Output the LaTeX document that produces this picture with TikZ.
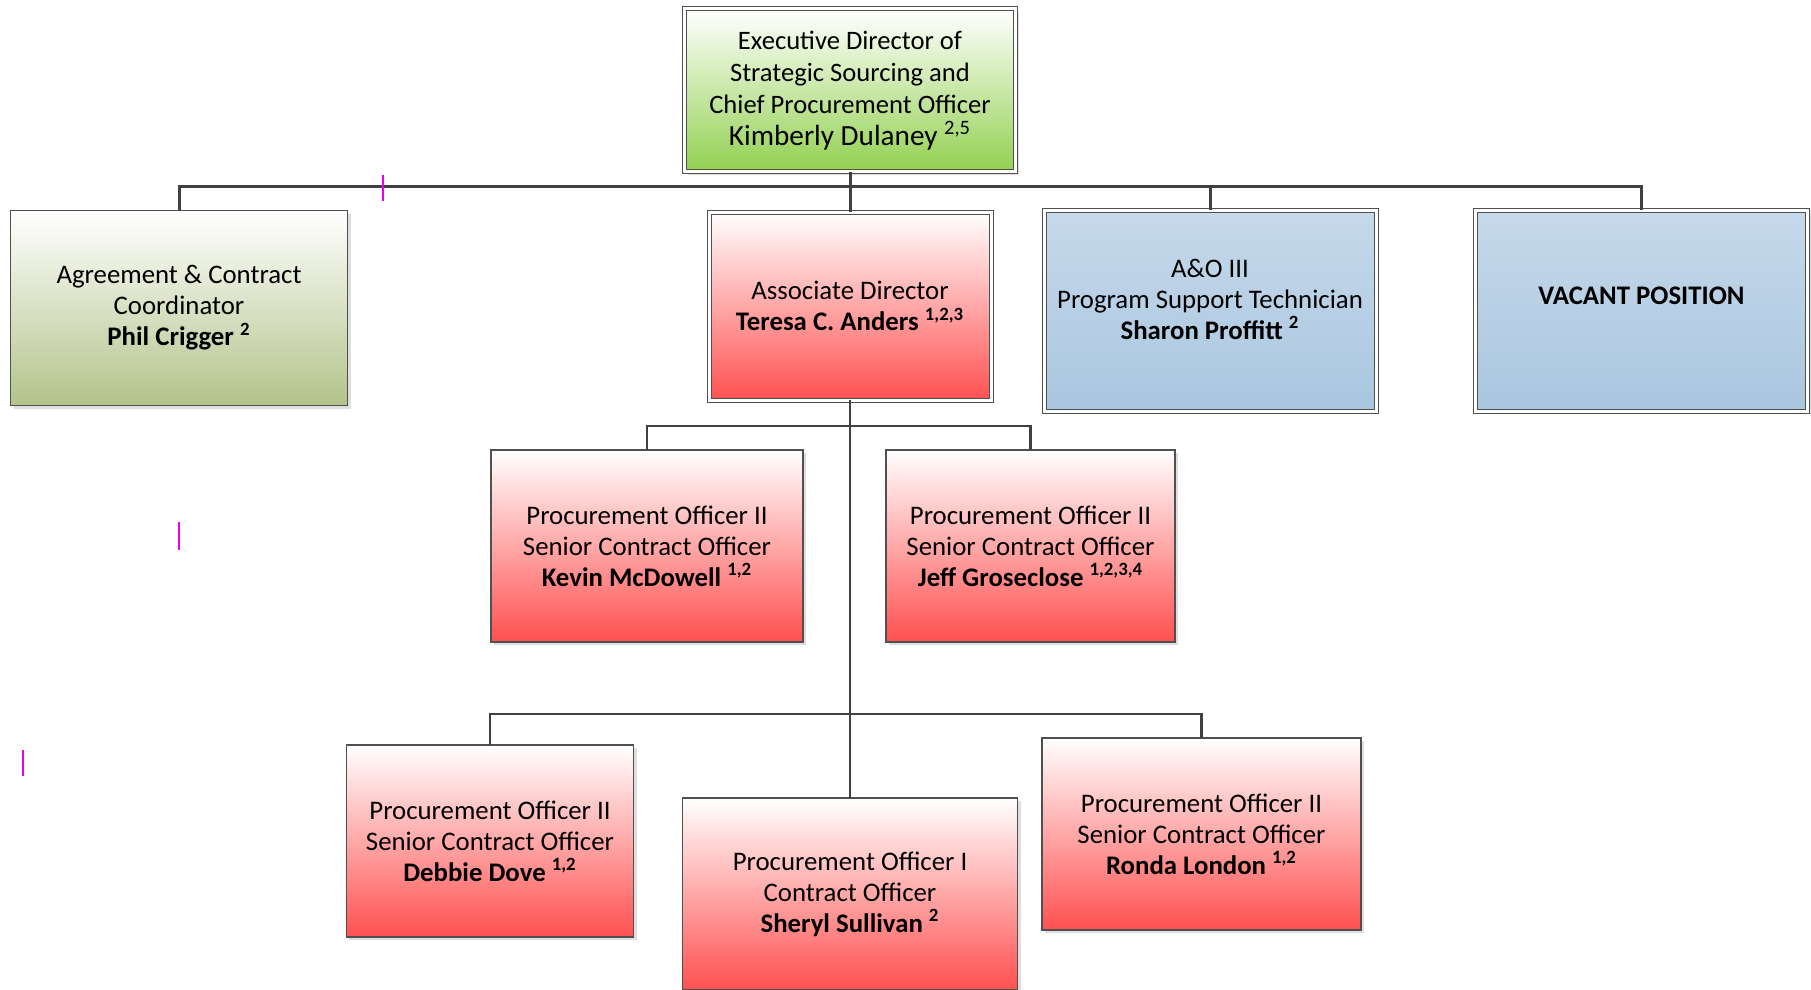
\documentclass[tikz,border=0pt]{standalone}
\usepackage{fontspec}
\setmainfont{Carlito}
\usepackage{tikz}
\usetikzlibrary{shadows}
\definecolor{linegray}{HTML}{404040}
\definecolor{boxedge}{HTML}{505050}
\definecolor{execgreen}{HTML}{92D050}
\definecolor{coordgreen}{HTML}{B3C38A}
\definecolor{postred}{HTML}{FF5050}
\definecolor{bluetop}{HTML}{C6D9EA}
\definecolor{bluebot}{HTML}{A9C6DF}
\definecolor{markpink}{RGB}{235,0,235}
\def\rowA{187}
\def\rowB{426}
\def\rowC{714}
\def\trunk{850}

\begin{document}
\begin{tikzpicture}[x=0.5pt, y=-0.5pt,
	box/.style={draw=boxedge, line width=0.6pt, inner sep=0pt, outer sep=0pt, align=center,
		font=\fontsize{13.4}{15.5}\selectfont,
		drop shadow={shadow xshift=1.6pt, shadow yshift=-1.6pt, fill=black!13, opacity=1}},
	dbl/.style={double=white, double distance=1.5pt, line width=0.5pt},
	execbox/.style={box, dbl, top color=white, bottom color=execgreen, font=\fontsize{13.3}{16}\selectfont},
	coordbox/.style={box, top color=white, bottom color=coordgreen},
	redbox/.style={box, top color=white, bottom color=postred},
	bluebox/.style={box, dbl, top color=bluetop, bottom color=bluebot},
	boxtext/.style={align=center, inner sep=0pt, font=\fontsize{13.4}{15.5}\selectfont},
	mainlink/.style={draw=linegray, line width=1.5pt},
	sublink/.style={draw=linegray, line width=1.1pt},
	]
	\useasboundingbox (0,0) rectangle (1811,990);
	%\draw[step=100, black!20] (0,0) grid (1811,990);

	% top level
	\node[execbox, minimum width=165.5pt, minimum height=81.5pt] (exec) at (\trunk,90.5)
		{Executive Director of\\Strategic Sourcing and\\Chief Procurement Officer\\{\fontsize{14.6}{16}\selectfont Kimberly Dulaney \textsuperscript{2,5}}};

	% second row
	\node[coordbox, minimum width=168.5pt, minimum height=97.5pt] (phil) at (179,308)
		{Agreement \& Contract\\Coordinator\\\textbf{Phil Crigger \textsuperscript{2}}};
	\node[redbox, dbl, minimum width=141pt, minimum height=94pt] (assoc) at (\trunk,306)
		{Associate Director\\\textbf{Teresa C. Anders \textsuperscript{1,2,3}}};
	\node[bluebox, minimum width=166pt, minimum height=100.5pt] (sharon) at (1210,310.5) {};
	\node[boxtext] (sharontxt) at (1210,299)
		{A\&O III\\Program Support Technician\\\textbf{Sharon Proffitt \textsuperscript{2}}};
	\node[bluebox, minimum width=166pt, minimum height=100.5pt] (vacant) at (1641.5,310.5) {};
	\node[boxtext] (vacanttxt) at (1641.5,296) {\textbf{VACANT POSITION}};

	% third row
	\node[redbox, minimum width=156pt, minimum height=96pt] (kevin) at (647,546)
		{Procurement Officer II\\Senior Contract Officer\\\textbf{Kevin McDowell \textsuperscript{1,2}}};
	\node[redbox, minimum width=144.5pt, minimum height=96pt] (jeff) at (1030.5,546)
		{Procurement Officer II\\Senior Contract Officer\\\textbf{Jeff Groseclose \textsuperscript{1,2,3,4}}};

	% bottom row
	\node[redbox, minimum width=143.75pt, minimum height=96pt] (debbie) at (490,841)
		{Procurement Officer II\\Senior Contract Officer\\\textbf{Debbie Dove \textsuperscript{1,2}}};
	\node[redbox, minimum width=167.5pt, minimum height=96pt] (sheryl) at (\trunk,894)
		{Procurement Officer I\\Contract Officer\\\textbf{Sheryl Sullivan \textsuperscript{2}}};
	\node[redbox, minimum width=159.5pt, minimum height=96pt] (ronda) at (1201.5,834)
		{Procurement Officer II\\Senior Contract Officer\\\textbf{Ronda London \textsuperscript{1,2}}};

	% connectors
	\coordinate (busA) at (\trunk,\rowA);
	\coordinate (busB) at (\trunk,\rowB);
	\coordinate (busC) at (\trunk,\rowC);
	\draw[mainlink] (exec.south) -- (busA) -- (assoc.north);
	\foreach \n in {phil,sharon,vacant}
		\draw[mainlink] (busA) -| (\n.north);
	\draw[sublink] (assoc.south) -- (sheryl.north);
	\foreach \n in {kevin,jeff}
		\draw[sublink] (busB) -| (\n.north);
	\foreach \n in {debbie,ronda}
		\draw[sublink] (busC) -| (\n.north);

	% stray marks
	\draw[markpink, line width=0.8pt] (383,175) -- (383,201);
	\draw[markpink, line width=0.8pt] (179,522) -- (179,550);
	\draw[markpink, line width=0.8pt] (23,750) -- (23,776);
\end{tikzpicture}
\end{document}
